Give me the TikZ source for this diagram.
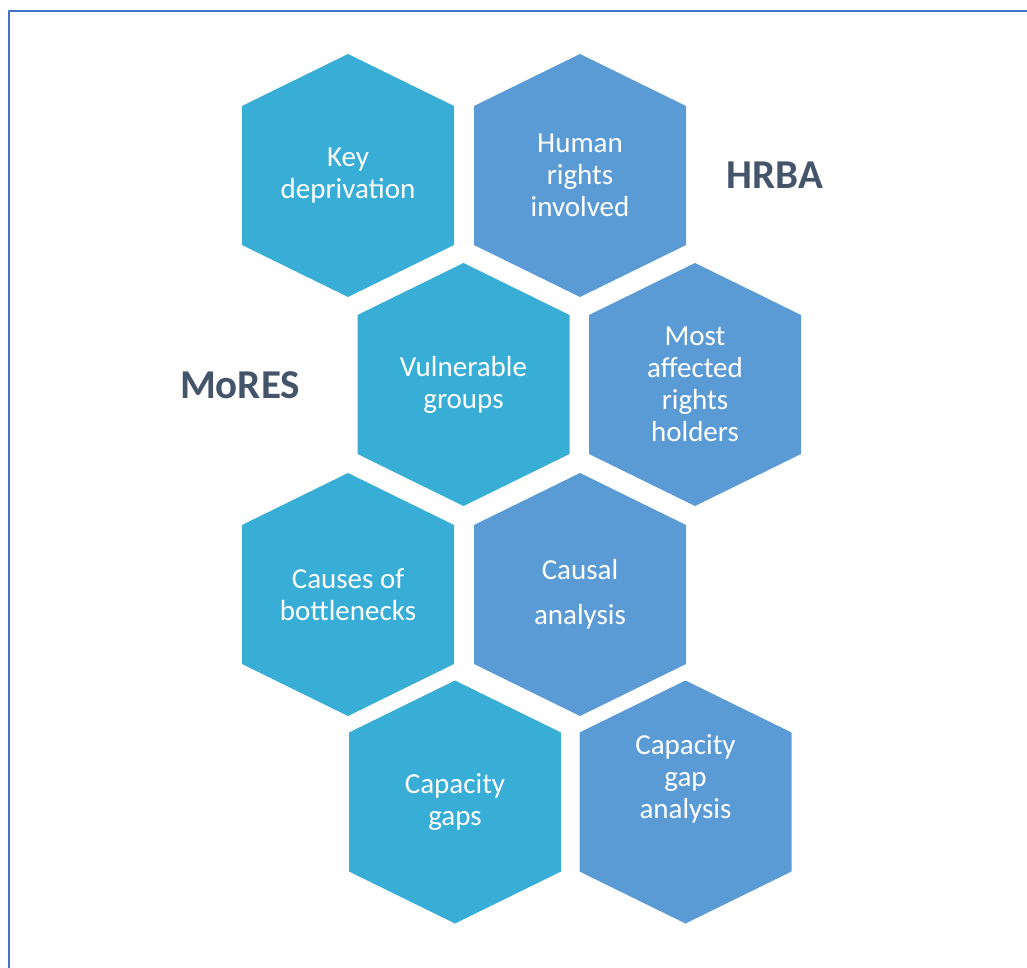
\documentclass[tikz,border=0pt]{standalone}
\usepackage{fontspec}
\setmainfont{Carlito}
\definecolor{hexlight}{HTML}{38ADD6}
\definecolor{hexdark}{HTML}{5B9BD5}
\definecolor{labelgrey}{HTML}{44546A}
\definecolor{framebl}{HTML}{4472C4}
\begin{document}
\begin{tikzpicture}[x=1pt,y=-1pt, line join=round,
  hexlabel/.style={text=white, align=center, font=\fontsize{29}{32}\selectfont},
  sidelabel/.style={text=labelgrey, font=\fontsize{41}{44}\selectfont\bfseries}]
\def \hexw{106}
\def \hexh{121.5}
\def \hexc{69.5}
\useasboundingbox (0,0) rectangle (1027,968);
\draw[framebl, line width=2.5pt] (9,11) rectangle (1045,995);
% hexagons: centre x / centre y / colour / name / text / text shift
\foreach \x/\y/\c/\n/\t/\dy in {
  348/175.5/hexlight/keydep/{Key\\deprivation}/0,
  580/175.5/hexdark/rights/{Human\\rights\\involved}/0,
  463.5/384.5/hexlight/vulner/{Vulnerable\\groups}/0,
  695/384.5/hexdark/holders/{Most\\affected\\rights\\holders}/0,
  348/594.5/hexlight/causes/{Causes of\\bottlenecks}/0,
  580/594.5/hexdark/causal/{Causal\\[13pt]analysis}/0,
  455/802/hexlight/gaps/{Capacity\\gaps}/0,
  685.5/802/hexdark/gapan/{Capacity\\gap\\analysis}/-23}{
  \fill[\c] (\x,\y-\hexh) -- (\x+\hexw,\y-\hexc) -- (\x+\hexw,\y+\hexc) -- (\x,\y+\hexh)
    -- (\x-\hexw,\y+\hexc) -- (\x-\hexw,\y-\hexc) -- cycle;
  \node[hexlabel] (\n) at (\x,\y+\dy) {\t};
}
\node[sidelabel] (hrba) at (775,175) {HRBA};
\node[sidelabel] (mores) at (240,385) {MoRES};
\end{tikzpicture}
\end{document}
